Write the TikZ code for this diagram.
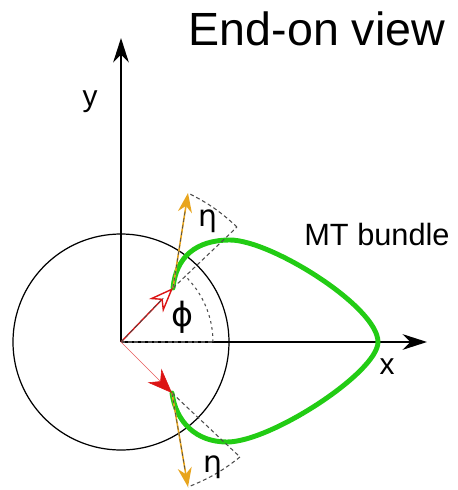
\documentclass[tikz,border=0pt]{standalone}
\usepackage{fontspec}
\setmainfont{Liberation Sans}
\newfontfamily\greekfont{DejaVu Sans}
\definecolor{mtgreen}{RGB}{34, 204, 20}
\definecolor{etaorange}{RGB}{232, 165, 30}
\definecolor{radred}{RGB}{220, 20, 20}
\usetikzlibrary{arrows.meta, positioning, calc}

\begin{document}
\begin{tikzpicture}[
  axis/.style={line width=0.8pt, -{Stealth[length=14pt, width=9pt]}},
  guide/.style={gray!60!black, line width=0.6pt, dash pattern=on 2.2pt off 1.6pt},
  bundle/.style={mtgreen, line width=2.8pt, line cap=round},
  eta/.style={etaorange, line width=0.9pt, -{Stealth[length=11pt, width=8pt]}},
  lbl/.style={inner sep=0pt, font=\fontsize{17}{17}\selectfont}
]
  \useasboundingbox (-2.42,-2.96) rectangle (6.74,6.84);

  % points
  \coordinate (O) at (0,0);
  \coordinate (P1) at (1.04,1.08);
  \coordinate (P2) at (1.02,-1.02);
  \coordinate (E1) at (1.34,2.98);
  \coordinate (E2) at (1.34,-2.90);
  \coordinate (T1) at (2.32,2.30);
  \coordinate (T2) at (2.38,-2.30);
  \coordinate (A) at (1.84,0);
  \coordinate (Y) at (0,6.08);
  \coordinate (X) at (6.12,0);

  % cross section and axes
  \draw[line width=0.7pt] (O) circle (2.16);
  \draw[axis] (O) -- (Y);
  \draw[axis] (O) -- (X);

  % angle phi
  \draw[guide] (O) -- (A);
  \draw[guide, dash pattern=on 1.5pt off 2pt] (A) arc (0:46:1.84);

  % MT bundle
  \draw[bundle] (P1) .. controls (1.1,1.7) and (1.5,2.04) .. (2.18,2.04)
    .. controls (3.0,2.04) and (5.14,0.7) .. (5.14,0)
    .. controls (5.14,-0.6) and (3.0,-2.0) .. (2.12,-2.0)
    .. controls (1.5,-2.0) and (1.1,-1.6) .. (P2);

  % radial vectors
  \draw[radred, line width=0.8pt, -{Stealth[open, length=14pt, width=11pt]}] (O) -- (P1);
  \draw[guide, line width=0.5pt, shorten >=8pt] (O) -- (P1);
  \draw[radred!70, line width=0.35pt, -{Stealth[color=radred, length=14pt, width=11pt]}] (O) -- (P2);

  % eta wedges
  \draw[guide] (P1) -- (T1);
  \draw[guide] (T1) to[bend right=8] (E1);
  \draw[eta] (P1) -- (E1);
  \draw[guide, line width=0.4pt, shorten >=10pt] (P1) -- (E1);
  \draw[guide] (P2) -- (T2);
  \draw[guide] (T2) to[bend left=8] (E2);
  \draw[eta] (P2) -- (E2);
  \draw[guide, line width=0.4pt, shorten >=10pt] (P2) -- (E2);

  % labels
  \node[lbl] (ylbl) at (-0.62,4.80) {y};
  \node[lbl] (xlbl) at (5.32,-0.50) {x};
  \node[lbl, font=\greekfont\fontsize{19}{19}\selectfont] (philbl) at (1.24,0.50) {ϕ};
  \node[lbl, font=\greekfont\fontsize{17}{17}\selectfont] (etatop) at (1.74,2.42) {η};
  \node[lbl, font=\greekfont\fontsize{17}{17}\selectfont] (etabot) at (1.84,-2.50) {η};
  \node[lbl, font=\fontsize{17.5}{17.5}\selectfont] (mtlbl) at (5.12,2.14) {MT bundle};
  \node[lbl, font=\fontsize{26.5}{26.5}\selectfont] (title) at (3.92,6.26) {End-on view};
\end{tikzpicture}
\end{document}
